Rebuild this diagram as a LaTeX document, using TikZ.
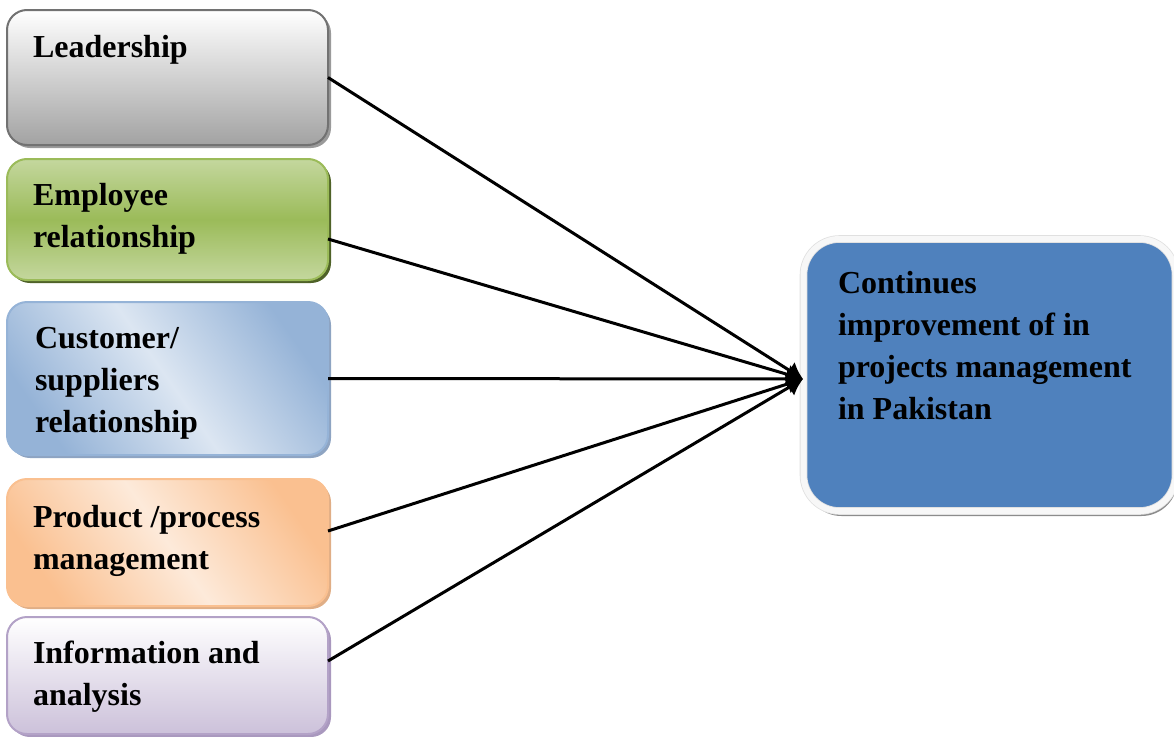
\documentclass[tikz,border=0pt]{standalone}
\usepackage{fontspec}
\setmainfont{Liberation Serif}
\usetikzlibrary{shadows,arrows.meta,calc}

% box colours
\definecolor{leadlow}{HTML}{A2A2A2}
\definecolor{leadline}{HTML}{727272}
\definecolor{leadshade}{HTML}{9A9A9A}
\definecolor{emplight}{HTML}{C4D79E}
\definecolor{empmid}{HTML}{9BBB59}
\definecolor{empshade}{HTML}{4F6228}
\definecolor{custdark}{HTML}{95B3D7}
\definecolor{custlight}{HTML}{DCE6F2}
\definecolor{custshade}{HTML}{8EA4C2}
\definecolor{proddark}{HTML}{FAC090}
\definecolor{prodlight}{HTML}{FDEADA}
\definecolor{prodshade}{HTML}{E0AE86}
\definecolor{infolow}{HTML}{CCC1DA}
\definecolor{infoline}{HTML}{B3A2C7}
\definecolor{infoshade}{HTML}{A998BE}
\definecolor{goalblue}{HTML}{4F81BD}

\begin{document}
\begin{tikzpicture}[x=1pt,y=-1pt,
  box/.style={rectangle, rounded corners=20pt, minimum width=321pt,
    inner sep=0pt, outer sep=0pt, line width=2pt},
  boxshadow/.style={drop shadow={shadow xshift=3pt, shadow yshift=-3pt,
    fill=#1, opacity=1}},
  lbl/.style={anchor=north west, inner sep=0pt, outer sep=0pt, align=left,
    font=\fontsize{32}{42}\selectfont\bfseries},
  link/.style={line width=3pt, -{Latex[length=16pt,width=20pt]}}]

\useasboundingbox (0,0) rectangle (1174,736);

% factor boxes on the left
\node[box, boxshadow=leadshade, draw=leadline, top color=white,
  bottom color=leadlow, minimum height=135pt] (lead) at (167.5,77.5) {};
\node[box, boxshadow=empshade, draw=empmid, top color=emplight,
  bottom color=emplight, middle color=empmid, minimum height=121pt]
  (emp) at (167.5,219.5) {};
\node[box, boxshadow=custshade, draw=custdark, top color=custdark,
  bottom color=custdark, middle color=custlight, shading angle=-55,
  minimum height=153pt] (cust) at (167.5,378.5) {};
\node[box, boxshadow=prodshade, draw=proddark, top color=proddark,
  bottom color=proddark, middle color=prodlight, shading angle=-55,
  minimum height=127pt] (prod) at (167.5,542.5) {};
\node[box, boxshadow=infoshade, draw=infoline, top color=white,
  bottom color=infolow, minimum height=117pt] (info) at (167.5,675.5) {};

% box texts
\node[lbl] (leadtxt) at (33,27.6) {\strut Leadership};
\node[lbl] (emptxt) at (33,175.6) {\strut Employee\\relationship};
\node[lbl] (custtxt) at (35,318.6) {\strut Customer/\\suppliers\\relationship};
\node[lbl] (prodtxt) at (33,497.6) {\strut Product /process\\management};
\node[lbl] (infotxt) at (33,633.6) {\strut Information and\\analysis};

% goal box on the right
\begin{scope}
\clip (0,0) rectangle (1174,736);
\node[rectangle, rounded corners=36pt, minimum width=372pt, minimum height=272pt,
  inner sep=0pt, outer sep=0pt, fill=goalblue,
  draw=black!12, double=black!3, double distance=6pt, line width=0.8pt,
  drop shadow={shadow xshift=2pt, shadow yshift=-5pt, fill=black!45, opacity=1}]
  (goal) at (989.5,375) {};
\end{scope}
\node[lbl] (goaltxt) at (838,263.6)
  {\strut Continues\\improvement of in\\projects management\\in Pakistan};

% connectors
\coordinate (tip) at (803,379);
\draw[link] (lead.east) -- (tip);
\draw[link] ($(emp.east)+(0,19.5)$) -- (tip);
\draw[link] (cust.east) -- (tip);
\draw[link] ($(prod.east)+(0,-11.5)$) -- (tip);
\draw[link] ($(info.east)+(0,-14.5)$) -- (tip);
\end{tikzpicture}
\end{document}
